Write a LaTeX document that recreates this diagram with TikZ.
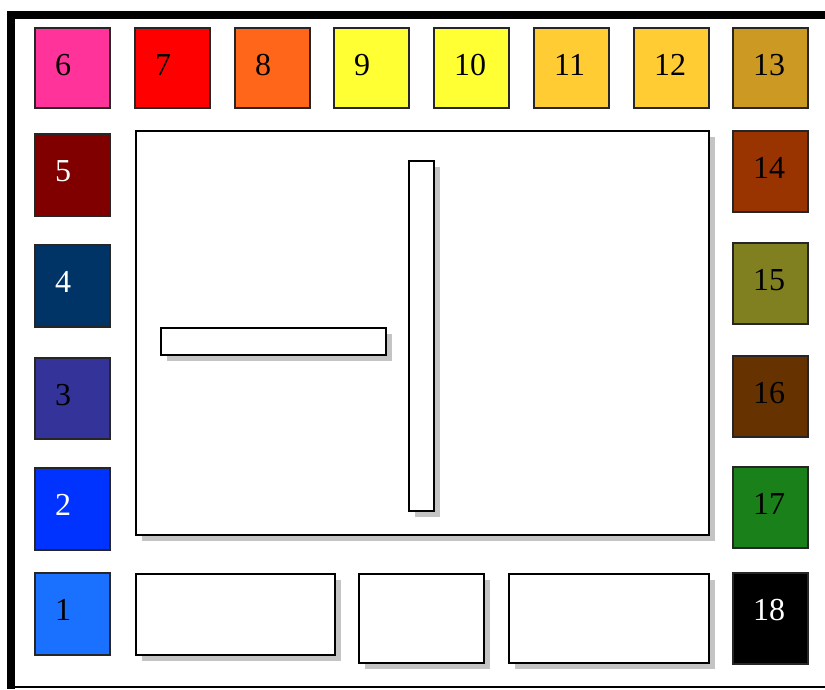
\documentclass[tikz,border=0pt]{standalone}
\usepackage{fontspec}
\setmainfont{Liberation Serif}
\usetikzlibrary{shadows}
\definecolor{c1}{HTML}{1A70FF}
\definecolor{c2}{HTML}{0033FF}
\definecolor{c3}{HTML}{333399}
\definecolor{c4}{HTML}{003366}
\definecolor{c5}{HTML}{800000}
\definecolor{c6}{HTML}{FF3399}
\definecolor{c7}{HTML}{FF0000}
\definecolor{c8}{HTML}{FF661A}
\definecolor{c9}{HTML}{FFFF33}
\definecolor{c10}{HTML}{FFFF33}
\definecolor{c11}{HTML}{FFCC33}
\definecolor{c12}{HTML}{FFCC33}
\definecolor{c13}{HTML}{CC9922}
\definecolor{c14}{HTML}{993300}
\definecolor{c15}{HTML}{808020}
\definecolor{c16}{HTML}{663300}
\definecolor{c17}{HTML}{1A801A}
\definecolor{c18}{HTML}{000000}
\definecolor{shadowgray}{HTML}{C4C4C4}
\tikzset{
  colbox/.style={draw=black!85, line width=1.2pt, minimum width=75pt, minimum height=81pt, anchor=north west, inner sep=0pt, outer sep=0pt},
  num/.style={anchor=base west, inner sep=0pt, font=\fontsize{32}{32}\selectfont},
  whitebox/.style={draw=black, line width=2pt, fill=white, anchor=north west, inner sep=0pt, outer sep=0pt,
    drop shadow={shadow xshift=6pt, shadow yshift=-6pt, fill=shadowgray, opacity=1}},
}
\begin{document}
\begin{tikzpicture}[x=1pt,y=-1pt]
\useasboundingbox (0,0) rectangle (825,689);
\fill[white] (0,0) rectangle (825,689);
% frame
\fill[black] (7,11) rectangle (825,19);
\fill[black] (7,11) rectangle (15,689);
\draw[line width=1.5pt] (15,687) -- (825,687);
% colored boxes: name, x, y, h, textcolor
\foreach \n/\x/\y/\h/\tc in {
  6/35/28/80/black, 7/135/28/80/black, 8/235/28/80/black, 9/334/28/80/black,
  10/434/28/80/black, 11/534/28/80/black, 12/634/28/80/black, 13/733/28/80/black,
  5/35/134/82/white, 4/35/245/82/white, 3/35/358/81/black, 2/35/468/82/white, 1/35/573/82/black,
  14/733/131/81/black, 15/733/243/81/black, 16/733/356/81/black, 17/733/467/81/black, 18/733/573/91/white}
{
  \node[colbox, fill=c\n, minimum height=\h pt] (b\n) at (\x,\y) {};
  \node[num, text=\tc] (t\n) at ([xshift=20pt,yshift=-47pt]b\n.north west) {\n};
}
% main area
\node[whitebox, minimum width=573pt, minimum height=404pt] (main) at (136,131) {};
\node[whitebox, minimum width=25pt, minimum height=350pt] (vbar) at (409,161) {};
\node[whitebox, minimum width=225pt, minimum height=27pt] (hbar) at (161,328) {};
% bottom boxes
\node[whitebox, minimum width=199pt, minimum height=81pt] (bot1) at (136,574) {};
\node[whitebox, minimum width=125pt, minimum height=89pt] (bot2) at (359,574) {};
\node[whitebox, minimum width=200pt, minimum height=89pt] (bot3) at (509,574) {};
\end{tikzpicture}
\end{document}
